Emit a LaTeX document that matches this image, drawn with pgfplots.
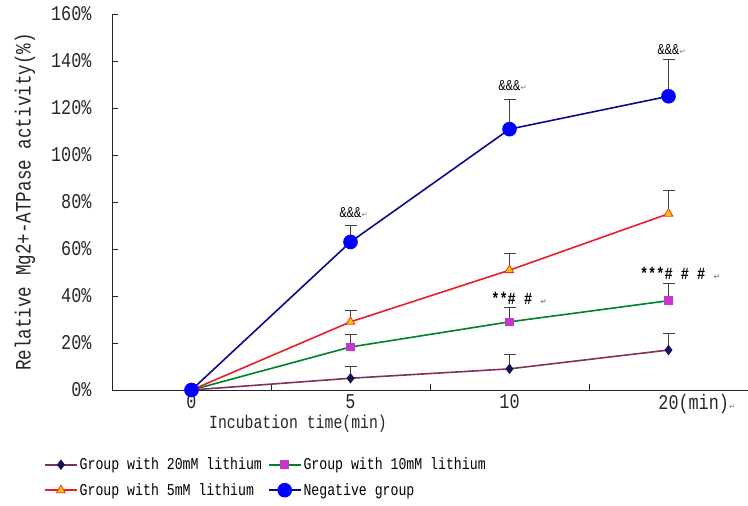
\documentclass[border=0pt]{standalone}
\usepackage{pgfplots}
\pgfplotsset{compat=1.18}
\usepackage{fontspec}
\setmainfont{Liberation Mono}[FakeStretch=0.8]
\newfontfamily\symfont{DejaVu Sans}
\definecolor{c20}{RGB}{128,48,96}
\definecolor{m20}{RGB}{20,20,90}
\definecolor{c10}{RGB}{0,128,40}
\definecolor{m10}{RGB}{204,51,204}
\definecolor{c5}{RGB}{235,30,40}
\definecolor{m5}{RGB}{255,200,0}
\definecolor{cneg}{RGB}{10,10,140}
\definecolor{mneg}{RGB}{0,0,255}
\newcommand{\ret}{\textcolor{black!45}{\symfont\fontsize{8}{8}\selectfont ↵}}
\begin{document}
\begin{tikzpicture}
\useasboundingbox (0,0) rectangle (748pt,506pt);
\begin{axis}[
  at={(112pt,116pt)}, anchor=south west,
  scale only axis, width=636pt, height=376pt,
  xmin=-0.5, xmax=3.5, ymin=0, ymax=160,
  axis x line=bottom, axis y line=left,
  axis line style={-, black!85, line width=0.9pt},
  tick align=inside,
  tick style={black!85, line width=0.8pt},
  major tick length=6pt,
  xtick={0.5,1.5,2.5}, xticklabels={},
  extra x ticks={0,1,2,3},
  extra x tick labels={0,5,10,{20\rlap{(min)\ret}}},
  extra x tick style={major tick length=0pt},
  ytick={0,20,...,160},
  yticklabel={\pgfmathprintnumber{\tick}\%},
  /pgf/number format/assume math mode=true,
  ticklabel style={font=\fontsize{21}{23}\selectfont, text=black!85},
  yticklabel style={xshift=-17pt},
  xticklabel style={yshift=-1pt},
  clip=false,
  error bars/y dir=plus, error bars/y explicit,
  error bars/error bar style={black!75, line width=1pt},
  error bars/error mark options={rotate=90, black!75, mark size=6pt, line width=1pt},
  legend columns=2,
  legend cell align=left,
  legend style={at={(axis description cs:0.242,-0.175)}, anchor=north, draw=none, fill=none,
    font=\fontsize{16.5}{19}\selectfont, row sep=8pt, inner sep=0pt,
    /tikz/every even column/.append style={column sep=4pt}},
  legend image code/.code={\draw[mark repeat=2,mark phase=2] plot coordinates {(0pt,0pt) (16pt,0pt) (32pt,0pt)};},
]
\addplot[c20, line width=1.6pt, mark=diamond*, mark size=4pt, mark options={fill=m20, draw=m20}]
  coordinates {(0,0) +- (0,0) (1,5) +- (0,5.2) (2,9) +- (0,6.3) (3,17) +- (0,7)};
\addlegendentry{Group with 20mM lithium}
\addplot[c10, line width=1.6pt, mark=square*, mark size=3.5pt, mark options={fill=m10, draw=m10}]
  coordinates {(0,0) +- (0,0) (1,18.3) +- (0,5.5) (2,29) +- (0,6.2) (3,38) +- (0,7.5)};
\addlegendentry{Group with 10mM lithium}
\addplot[c5, line width=1.6pt, mark=triangle*, mark size=5pt, mark options={fill=m5, draw=c5!80!orange, line width=0.8pt}]
  coordinates {(0,0) +- (0,0) (1,29) +- (0,4.8) (2,51) +- (0,7.2) (3,75) +- (0,10)};
\addlegendentry{Group with 5mM lithium}
\addplot[cneg, line width=1.6pt, mark=*, mark size=6.5pt, mark options={fill=mneg, draw=mneg}]
  coordinates {(0,0) +- (0,0) (1,63) +- (0,7) (2,111) +- (0,12.8) (3,125) +- (0,15.5)};
\addlegendentry{Negative group}
\node[font=\fontsize{15}{15}\selectfont] at (axis cs:1,75.5) {\&\&\&\rlap{\ret}};
\node[font=\fontsize{15}{15}\selectfont] at (axis cs:2,129.5) {\&\&\&\rlap{\ret}};
\node[font=\fontsize{15}{15}\selectfont] at (axis cs:3,145) {\&\&\&\rlap{\ret}};
\node[font=\bfseries\fontsize{17}{17}\selectfont, anchor=west, inner sep=0pt] at (axis cs:1.885,39) {**\# \#\ \ret};
\node[font=\bfseries\fontsize{17}{17}\selectfont, anchor=west, inner sep=0pt] at (axis cs:2.82,49.5) {***\# \# \#\ \ret};
\end{axis}
\node[rotate=90, font=\fontsize{22}{24}\selectfont, text=black!85] at (25pt,304pt) {Relative Mg2+-ATPase activity(\%)};
\node[font=\fontsize{18.5}{20}\selectfont, text=black!85] at (298pt,82pt) {Incubation time(min)};
\end{tikzpicture}
\end{document}
